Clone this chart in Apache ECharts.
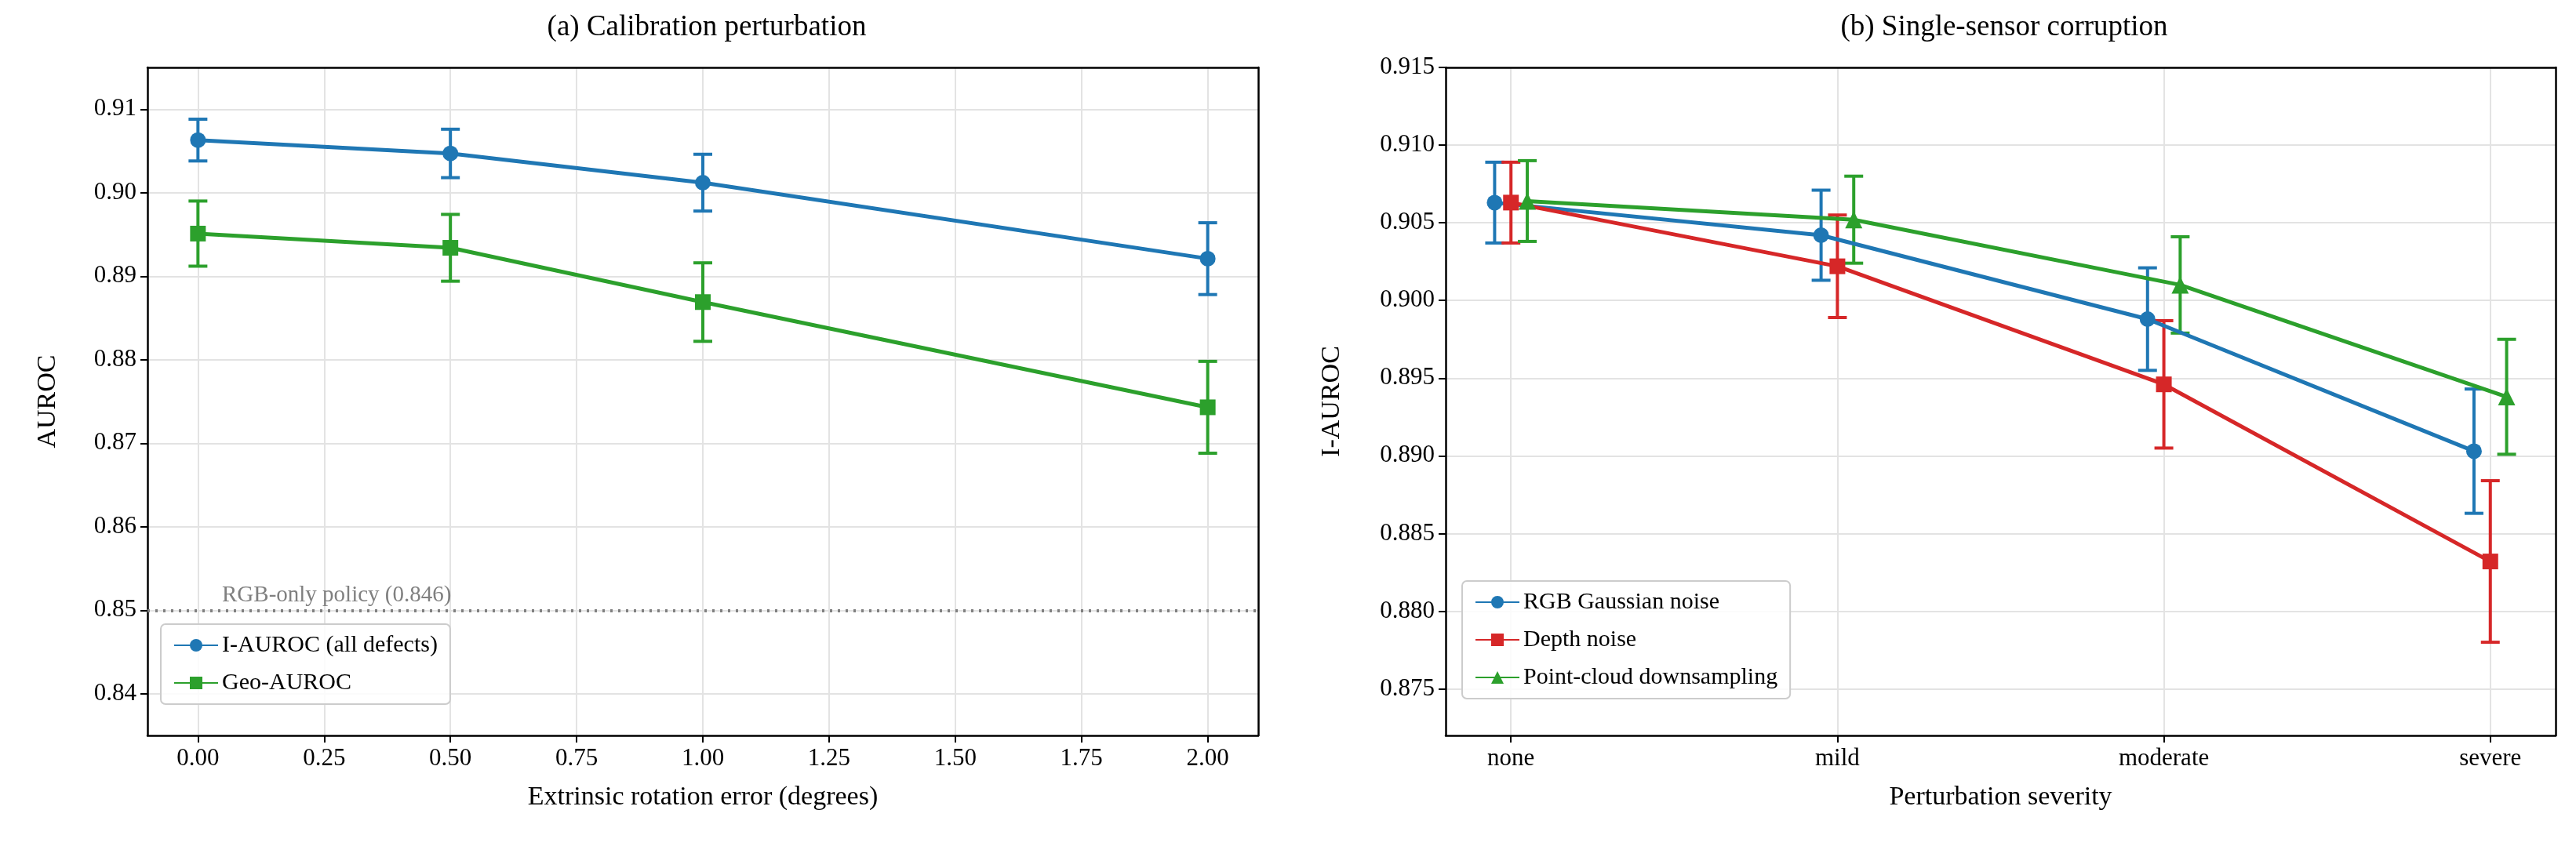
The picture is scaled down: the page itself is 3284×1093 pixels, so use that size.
<!DOCTYPE html>
<html>
<head>
<meta charset="utf-8">
<script src="https://cdn.jsdelivr.net/npm/echarts@6/dist/echarts.min.js"></script>
<style>html,body{margin:0;padding:0;background:#fff}#main{width:3284px;height:1093px}</style>
</head>
<body>
<div id="main"></div>
<script>
// (a) calibration perturbation
var rotErr = [0, 0.5, 1.0, 2.0];
var iAuroc = [0.9063, 0.9047, 0.9012, 0.8921];
var iAurocErr = [0.0025, 0.0029, 0.0034, 0.0043];
var geoAuroc = [0.8951, 0.8934, 0.8869, 0.8743];
var geoAurocErr = [0.0039, 0.0040, 0.0047, 0.0055];
var rgbOnly = 0.846;
var leftXTicks = [0, 0.25, 0.5, 0.75, 1, 1.25, 1.5, 1.75, 2];
var leftYTicks = [0.84, 0.85, 0.86, 0.87, 0.88, 0.89, 0.90, 0.91];

// (b) single-sensor corruption
var severity = ['none', 'mild', 'moderate', 'severe'];
var rgbNoise = [0.9063, 0.9042, 0.8988, 0.8903];
var rgbNoiseErr = [0.0026, 0.0029, 0.0033, 0.0040];
var depthNoise = [0.9063, 0.9022, 0.8946, 0.8832];
var depthNoiseErr = [0.0026, 0.0033, 0.0041, 0.0052];
var pcDown = [0.9064, 0.9052, 0.9010, 0.8938];
var pcDownErr = [0.0026, 0.0028, 0.0031, 0.0037];
var rightTicks = [0.875, 0.880, 0.885, 0.890, 0.895, 0.900, 0.905, 0.910, 0.915];

var BLUE = '#1f77b4', GREEN = '#2ca02c', RED = '#d62728';
var FONT = 'Liberation Serif';

var myChart = echarts.init(document.getElementById('main'));

function pts(xs, ys, dx) {
  return ys.map(function (y, i) { return [xs[i] + dx, y]; });
}
function bars(xs, ys, es, dx) {
  return ys.map(function (y, i) { return [xs[i] + dx, y - es[i], y + es[i]]; });
}
function errSeries(name, data, color, gi) {
  return {
    name: name + ' err', type: 'custom', xAxisIndex: gi, yAxisIndex: gi, z: 3,
    itemStyle: { color: color },
    renderItem: function (params, api) {
      var lo = api.coord([api.value(0), api.value(1)]);
      var hi = api.coord([api.value(0), api.value(2)]);
      var c = 12;
      var st = { stroke: color, lineWidth: 4 };
      return {
        type: 'group', children: [
          { type: 'line', shape: { x1: lo[0], y1: lo[1], x2: hi[0], y2: hi[1] }, style: st },
          { type: 'line', shape: { x1: lo[0] - c, y1: lo[1], x2: lo[0] + c, y2: lo[1] }, style: st },
          { type: 'line', shape: { x1: hi[0] - c, y1: hi[1], x2: hi[0] + c, y2: hi[1] }, style: st }
        ]
      };
    },
    data: data
  };
}
function lineSeries(name, data, color, symbol, size, gi, extra) {
  var s = {
    name: name, type: 'line', xAxisIndex: gi, yAxisIndex: gi, z: 4,
    symbol: symbol, symbolSize: size, showSymbol: true,
    itemStyle: { color: color }, lineStyle: { color: color, width: 5 },
    emphasis: { disabled: true },
    data: data
  };
  if (extra) Object.assign(s, extra);
  return s;
}

var nameText = { fontFamily: FONT, fontSize: 34, color: '#000' };
var split = { show: true, lineStyle: { color: '#e3e3e3', width: 2 } };
var tick = { show: true, inside: false, length: 9, lineStyle: { color: '#000', width: 2 } };
var line = { show: true, onZero: false, lineStyle: { color: '#000', width: 2.5 } };
function lbl(extra) {
  return Object.assign({ fontFamily: FONT, fontSize: 31, color: '#000', margin: 14 }, extra);
}
function frameX(gi, min, max) {
  return { type: 'value', gridIndex: gi, position: 'top', min: min, max: max,
    axisLine: line, axisTick: { show: false }, axisLabel: { show: false }, splitLine: { show: false } };
}
function frameY(gi, min, max) {
  return { type: 'value', gridIndex: gi, position: 'right', min: min, max: max,
    axisLine: line, axisTick: { show: false }, axisLabel: { show: false }, splitLine: { show: false } };
}

var rightIdx = [0, 1, 2, 3];
var legendBase = { orient: 'vertical', itemGap: 18, itemWidth: 56, itemHeight: 20,
  backgroundColor: 'rgba(255,255,255,0.85)', borderColor: '#cccccc', borderWidth: 2, borderRadius: 6,
  padding: [12, 16], textStyle: { fontFamily: FONT, fontSize: 30, color: '#000' } };

var option = {
  backgroundColor: '#fff',
  animation: false,
  title: [
    { text: '(a) Calibration perturbation', left: 896, top: 12, textAlign: 'center',
      textStyle: { fontFamily: FONT, fontSize: 37, fontWeight: 'normal', color: '#000' } },
    { text: '(b) Single-sensor corruption', left: 2550, top: 12, textAlign: 'center',
      textStyle: { fontFamily: FONT, fontSize: 37, fontWeight: 'normal', color: '#000' } }
  ],
  grid: [
    { left: 188, width: 1416, top: 86, height: 852 },
    { left: 1843, width: 1415, top: 86, height: 852 }
  ],
  legend: [
    Object.assign({ left: 205, top: 796, data: ['I-AUROC (all defects)', 'Geo-AUROC'] }, legendBase),
    Object.assign({ left: 1864, top: 741, data: ['RGB Gaussian noise', 'Depth noise', 'Point-cloud downsampling'] }, legendBase)
  ],
  xAxis: [
    { type: 'value', gridIndex: 0, min: -0.1, max: 2.1,
      name: 'Extrinsic rotation error (degrees)', nameLocation: 'middle', nameGap: 62, nameTextStyle: nameText,
      axisLabel: lbl({ customValues: leftXTicks, formatter: function (v) { return v.toFixed(2); } }),
      axisTick: Object.assign({ customValues: leftXTicks }, tick),
      axisLine: line, splitLine: split },
    { type: 'value', gridIndex: 1, min: -0.2, max: 3.2,
      name: 'Perturbation severity', nameLocation: 'middle', nameGap: 62, nameTextStyle: nameText,
      axisLabel: lbl({ customValues: rightIdx, formatter: function (v) { return severity[Math.round(v)]; } }),
      axisTick: Object.assign({ customValues: rightIdx }, tick),
      axisLine: line, splitLine: split },
    frameX(0, -0.1, 2.1),
    frameX(1, -0.2, 3.2)
  ],
  yAxis: [
    { type: 'value', gridIndex: 0, min: 0.835, max: 0.915,
      name: 'AUROC', nameLocation: 'middle', nameGap: 110, nameTextStyle: nameText,
      axisLabel: lbl({ customValues: leftYTicks, formatter: function (v) { return v.toFixed(2); } }),
      axisTick: Object.assign({ customValues: leftYTicks }, tick),
      axisLine: line, splitLine: split },
    { type: 'value', gridIndex: 1, min: 0.872, max: 0.915,
      name: 'I-AUROC', nameLocation: 'middle', nameGap: 128, nameTextStyle: nameText,
      axisLabel: lbl({ customValues: rightTicks, formatter: function (v) { return v.toFixed(3); } }),
      axisTick: Object.assign({ customValues: rightTicks }, tick),
      axisLine: line, splitLine: split },
    frameY(0, 0.835, 0.915),
    frameY(1, 0.872, 0.915)
  ],
  series: [
    errSeries('I-AUROC (all defects)', bars(rotErr, iAuroc, iAurocErr, 0), BLUE, 0),
    lineSeries('I-AUROC (all defects)', pts(rotErr, iAuroc, 0), BLUE, 'circle', 20, 0),
    errSeries('Geo-AUROC', bars(rotErr, geoAuroc, geoAurocErr, 0), GREEN, 0),
    lineSeries('Geo-AUROC', pts(rotErr, geoAuroc, 0), GREEN, 'rect', 20, 0, {
      markLine: {
        symbol: 'none', silent: true,
        lineStyle: { color: '#808080', type: [3, 7], width: 4 },
        label: { show: true, position: 'insideStartTop', distance: [95, 4], formatter: 'RGB-only policy (0.846)',
          fontFamily: FONT, fontSize: 29, color: '#808080' },
        data: [{ yAxis: rgbOnly }]
      }
    }),
    errSeries('RGB Gaussian noise', bars(rightIdx, rgbNoise, rgbNoiseErr, -0.05), BLUE, 1),
    lineSeries('RGB Gaussian noise', pts(rightIdx, rgbNoise, -0.05), BLUE, 'circle', 20, 1),
    errSeries('Depth noise', bars(rightIdx, depthNoise, depthNoiseErr, 0), RED, 1),
    lineSeries('Depth noise', pts(rightIdx, depthNoise, 0), RED, 'rect', 20, 1),
    errSeries('Point-cloud downsampling', bars(rightIdx, pcDown, pcDownErr, 0.05), GREEN, 1),
    lineSeries('Point-cloud downsampling', pts(rightIdx, pcDown, 0.05), GREEN, 'triangle', 22, 1)
  ]
};

myChart.setOption(option);
</script>
</body>
</html>
